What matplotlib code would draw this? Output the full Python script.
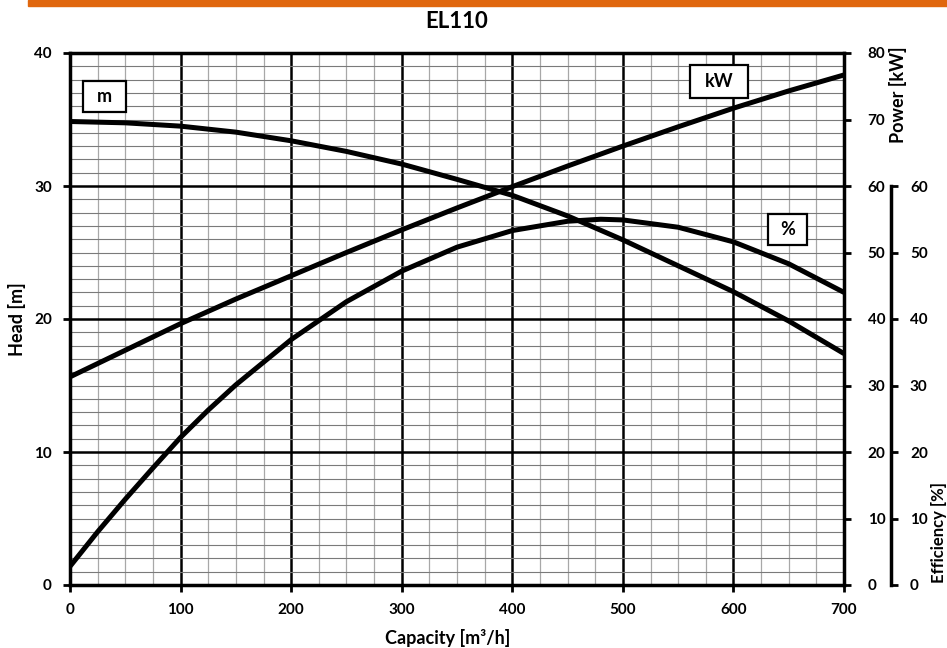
import matplotlib
matplotlib.use("Agg")
import matplotlib.pyplot as plt
from matplotlib.patches import Rectangle
from matplotlib.ticker import MultipleLocator

# ---- data ----
title = "EL110"
head_q = [0, 50, 100, 150, 200, 250, 300, 350, 400, 450, 500, 550, 600, 650, 700]
head_m = [34.85, 34.75, 34.5, 34.05, 33.4, 32.6, 31.65, 30.5, 29.3, 27.75, 25.95, 24.0, 22.05, 19.85, 17.4]
power_q = [0, 50, 100, 150, 200, 250, 300, 350, 400, 450, 500, 550, 600, 650, 700]
power_kw = [31.3, 35.3, 39.3, 43.0, 46.5, 50.0, 53.4, 56.7, 59.9, 63.0, 66.0, 68.9, 71.7, 74.3, 76.7]
eff_q = [0, 25, 50, 75, 100, 125, 150, 200, 250, 300, 350, 400, 450, 480, 500, 550, 600, 650, 700]
eff_pct = [2.8, 8.0, 12.9, 17.6, 22.2, 26.3, 30.1, 36.9, 42.6, 47.2, 50.8, 53.3, 54.7, 55.0, 54.9, 53.8, 51.6, 48.3, 44.0]
x_ticks = [0, 100, 200, 300, 400, 500, 600, 700]
head_ticks = [0, 10, 20, 30, 40]
power_ticks = [0, 10, 20, 30, 40, 50, 60, 70, 80]
eff_ticks = [0, 10, 20, 30, 40, 50, 60]

plt.rcParams['font.family'] = ['Lato', 'DejaVu Sans']
plt.rcParams['font.weight'] = 'bold'

W, H = 947, 648
fig = plt.figure(figsize=(W / 100, H / 100), dpi=100)
fig.patch.set_facecolor('white')

# orange top bar
fig.patches.append(Rectangle((28 / W, 1 - 6 / H), 1 - 28 / W, 6 / H,
                             transform=fig.transFigure, color='#E0670E', zorder=0))

L, R, T, B = 70, 844, 53, 585
ax = fig.add_axes([L / W, 1 - B / H, (R - L) / W, (B - T) / H])
ax.set_xlim(0, 700)
ax.set_ylim(0, 40)

# grid
ax.xaxis.set_major_locator(MultipleLocator(100))
ax.xaxis.set_minor_locator(MultipleLocator(25))
ax.yaxis.set_major_locator(MultipleLocator(10))
ax.yaxis.set_minor_locator(MultipleLocator(1))
ax.grid(which='minor', axis='x', color='#a8a8a8', lw=0.9, zorder=1)
ax.grid(which='minor', axis='y', color='#7a7a7a', lw=0.8, zorder=1)
ax.grid(which='major', color='black', lw=1.8, zorder=2)
ax.tick_params(which='minor', length=0)
ax.tick_params(which='major', length=5, width=2, direction='out', labelsize=11, pad=8)
ax.set_xticks(x_ticks)
ax.set_yticks(head_ticks)
for s in ax.spines.values():
    s.set_linewidth(2.5)
ax.set_xlabel("Capacity [m³/h]", fontsize=13, fontweight='bold', va='center')
ax.xaxis.set_label_coords((448 - L) / (R - L), (B - 638) / (B - T))
ax.set_ylabel("Head [m]", fontsize=13, fontweight='bold', va='center')
ax.yaxis.set_label_coords((17 - L) / (R - L), 0.5)

ax.plot(head_q, head_m, color='black', lw=3.6, zorder=5, solid_capstyle='butt')

# power axis
ax2 = ax.twinx()
ax2.set_ylim(0, 80)
ax2.set_yticks(power_ticks)
ax2.tick_params(length=5, width=2, labelsize=11, pad=12)
for s in ax2.spines.values():
    s.set_visible(False)
ax2.plot(power_q, power_kw, color='black', lw=3.6, zorder=5, solid_capstyle='butt')

# efficiency axis
ax3 = ax.twinx()
ax3.set_ylim(0, 80)
for k, s in ax3.spines.items():
    s.set_visible(k == 'right')
ax3.spines['right'].set_position(('axes', (890.5 - L) / (R - L)))
ax3.spines['right'].set_linewidth(2.5)
ax3.spines['right'].set_bounds(0, 60)
ax3.set_yticks(eff_ticks)
ax3.tick_params(length=5, width=2, labelsize=11, pad=9)
ax3.plot(eff_q, eff_pct, color='black', lw=3.6, zorder=5, solid_capstyle='butt')

for a in (ax, ax2, ax3):
    for lab in a.get_xticklabels() + a.get_yticklabels():
        lab.set_fontweight('bold')

# labels on right side
fig.text(898 / W, 1 - 95 / H, "Power [kW]", rotation=90, ha='center', va='center',
         fontsize=13, fontweight='bold')
fig.text(939 / W, 1 - 482 / H, "Efficiency [%]", rotation=90, ha='center', va='top',
         fontsize=12, fontweight='bold')

# title
fig.text(457 / W, 1 - 22 / H, title, ha='center', va='center', fontsize=16, fontweight='bold')

# legend boxes
def box(x0, y0, x1, y1, text):
    fig.patches.append(Rectangle((x0 / W, 1 - y1 / H), (x1 - x0) / W, (y1 - y0) / H,
                                 transform=fig.transFigure, facecolor='white',
                                 edgecolor='black', lw=1.6, zorder=10))
    fig.text((x0 + x1) / 2 / W, 1 - (y0 + y1) / 2 / H, text, ha='center', va='center',
             fontsize=13, fontweight='bold', zorder=11)

box(83, 81, 126, 112, "m")
box(690, 65, 748, 98, "kW")
box(768, 214, 807, 245, "%")

fig.savefig("out.png", dpi=100, facecolor='white')
